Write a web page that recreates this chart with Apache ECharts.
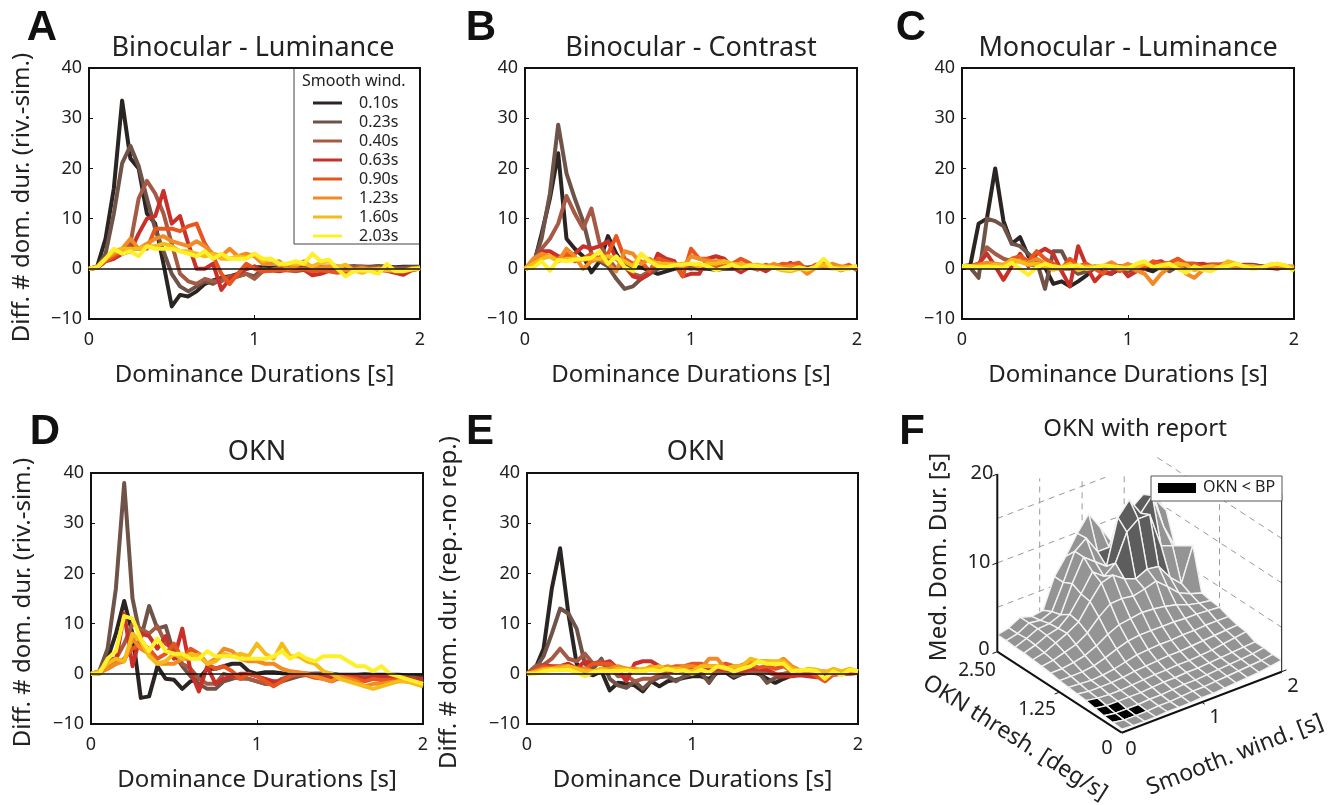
<!DOCTYPE html>
<html>
<head>
<meta charset="utf-8">
<style>html,body{margin:0;padding:0;background:#fff}#chart{width:1341px;height:805px}</style>
<script src="https://cdn.jsdelivr.net/npm/echarts@6/dist/echarts.min.js"></script>
</head>
<body>
<div id="chart"></div>
<script>
// dominance duration bins [s]
const durations = [0,.05,.1,.15,.2,.25,.3,.35,.4,.45,.5,.55,.6,.65,.7,.75,.8,.85,.9,.95,1,1.05,1.1,1.15,1.2,1.25,1.3,1.35,1.4,1.45,1.5,1.55,1.6,1.65,1.7,1.75,1.8,1.85,1.9,1.95,2];
const windowNames = ['0.10s','0.23s','0.40s','0.63s','0.90s','1.23s','1.60s','2.03s'];
const windowColors = ['#2a2522','#6f5248','#a45a45','#c9302a','#e8551f','#f28a25','#f5bb18','#fdf02a'];

// panel A
const a010 = [0,.5,6,16,33.5,22,20,11,9,1, -7.5,-5.2,-5.5,-4.5,-3,-2.3,-1.8,-1.5,-1,0, .3,.3,.2,.3,.3,.3,.3,.5,.4,.4, .4,.4,.5,.4,.4,.5,.4,.3,.4,.4,.4];
const a023 = [0,.3,3,11,21,24.5,20.5,14,8,3.5, -1,-3.5,-4.5,-3.5,-2.5,-3,-2,-2,-1.5,-1, -1.5,0,-.3,.2,.2,0,.2,.4,.3,.2, .3,.4,.3,.4,.3,.5,.3,.2,.2,.3,.3];
const a040 = [0,.2,1.5,3,3,5,14,17.5,15,11, 5,-1,-2.5,-3,-2,-2.5,-2.5,-1.5,-1.5,-1, -2,-.5,-.2,.2,-.3,-.5,-.2,.2,.1,.2, .3,.2,.3,.4,.2,.2,.1,-.1,-.1,.1,.2];
const a063 = [0,.2,1.5,2,3,3.5,7,10,10.5,15.5, 9,10.5,5,0,0,1,-4.2,-2,-1,0, .5,-.5,-.3,-.5,-.2,0,-.2,-1.3,-1,-.4, -.6,-.8,-.5,0,-.3,-.2,-.4,-.8,-1.2,-.3,.1];
const a090 = [0,.2,1.5,2.5,3.5,4,4,4,8,8, 8,7.5,8.5,9,5,2.5,-1,-3,-1,1, 0,-.5,-.4,-.2,-.3,-.2,0,-.5,-.3,-.5, -.8,-.3,-.2,-.3,-.1,0,-.2,-.3,-.5,-.2,0];
const a123 = [0,.5,2,3,4,6,4,5,6,6.5, 5.5,5,4.5,5.5,4.5,3,2.5,4,2.5,3, 2.5,1,1,1.5,0,.5,1.5,.2,.3,.4, .5,-.3,-.2,.2,-.2,0,-.1,-.2,-.4,0,.2];
const a160 = [0,.3,2,3.5,4,4,4,4.5,4.5,5, 4.5,3.5,3.5,3,2.5,3,2,2,2.5,2.2, 3,1.5,2,.8,1,1,1,.5,1.2,1.5, .3,.8,-.3,-.8,-.2,0,-.3,-.4,-.4,-.2,.3];
const a203 = [0,.3,2,4,3,3.5,2.5,4.5,4,4, 4,3.5,3,2.5,3.5,2,3,2,2,2, 3,2,2,1,1,1.5,1,3,1.5,1.8, 0,-1.5,-.5,-.3,-.5,-1,1,-.5,-.5,0,0];

// panel B
const b010 = [0,.5,7,14,23,6,4,2.5,-.7,1.5, 6.5,3,.5,.3,.3,-.3,-1,-.5,0,.2, .2,0,0,-.2,0,0,.2,.2,0,.2, .2,.2,.2,.3,.2,.2,.2,.2,.2,.2,.2];
const b023 = [0,1,6,15,28.7,19,14,9.5,3,1.5, .5,-2,-4,-3.5,-2,-1,0,.5,.5,.5, .3,0,.2,.2,.2,.2,.3,.3,0,.2, .3,.3,.2,.3,.2,.2,.3,.2,.2,.3,.2];
const b040 = [0,.7,4,6,9,14.5,11,8,12,5, 2,0,.5,-1,-1.5,-.5,.3,.5,.5,.3, 0,.3,.3,.3,0,.3,.3,.2,.2,.4, .2,.3,.2,.2,.1,.2,.2,.1,.2,.2,.2];
const b063 = [0,.5,3.5,3.5,2.5,2,3,4.5,4,4.5, 5.5,2,.5,-1.5,-2,-1,3,2,1.5,-1.5, -1,-1,2,2.5,2,.3,-.7,.3,.3,-.5, .5,.2,1.2,0,.2,.5,.8,.5,-.3,.2,.3];
const b090 = [0,1,2.5,2.5,2,3,1.5,2,3,2, 3,6.5,2,1,1.5,-.5,2,1.5,1,-1.5, 4,2,2,.5,.5,1,2,1.2,-.2,.8, .3,1,.8,1.2,-.3,.8,1,.3,.2,.8,-.3];
const b123 = [0,2,3,2.5,1.5,4,2.5,0,1.5,2, 1,-.5,3.5,3,1,2,1,.5,1,.3, 2.5,2,1.5,1.5,1.5,.8,1,.5,.3,.3, 1,.3,.5,.3,-1,.2,.3,1,.5,.3,0];
const b160 = [0,1,2,2.5,1.5,2,2,1.8,2,2, 2.5,2,1.5,.5,3,1.5,1,1,.8,1, 1,.5,1,1,1.5,1,.8,.6,.8,.5, .3,-.3,-.5,0,-.2,.3,.8,.2,.2,.3,.5];
const b203 = [0,.2,1.5,-.4,1.8,1.5,1.8,2,2.2,3.5, 1,2.5,.3,-.5,3,1.5,.5,.3,.7,.8, 1,1,.5,-.3,.3,.8,.1,.7,.5,.3, .2,0,-.2,.3,-.1,.4,2,.2,-.2,0,.6];

// panel C
const c010 = [.5,.7,9,10,20,9.5,5,6.3,2.5,.8, .3,-3,-2.5,-3.5,-2.5,-1.3,.5,-.7,-1,0, .7,.5,0,-.5,.5,.7,.7,.5,.5,.7, .8,.8,.8,.8,.7,.7,.5,.3,.5,.4,.3];
const c023 = [.5,.2,-1.8,10,9.5,8.5,5,4.5,3,1.5, -4,3.5,3.5,.3,-1,-.5,0,.5,0,.2, -.5,.2,.3,.5,.5,-.5,.5,1,1,.8, .8,.8,.5,.7,.8,.8,.5,.3,.5,.3,.3];
const c040 = [.5,.5,.7,4.3,3,2,1.5,1.5,1,.5, .3,.2,0,0,.5,.3,.3,.5,.3,.5, .5,.3,.5,.5,.5,.3,.5,.5,.3,.5, .5,.5,.5,.5,.5,.4,.3,.3,.3,.3,.3];
const c063 = [.5,.5,1,3,.5,-2.2,.5,3,.5,3, 4,3,-.5,-3.5,4.5,.5,-2.5,-.7,-1,.5, -1.5,-.5,0,1.2,1.5,.5,2,.7,.8,1, .5,.7,.8,.5,.7,.5,.3,.2,0,.5,.3];
const c090 = [.5,.5,1,1,.8,.5,2,2.5,1.5,3.5, 2,1,0,2,.5,1,0,-1,1,-.5, .5,-.5,.3,1.5,1,1.2,2,1,1,.2, .8,.8,1.2,.5,.5,.5,.3,.5,.2,.5,0];
const c123 = [.5,.5,.7,1.2,1,.8,1.8,1.5,1.2,2, 1,.5,.2,.3,.5,.5,.3,.5,1.3,.3, 1,-.3,-1,-3,-1,.3,1.2,-1,-1.8,-.3, .5,.3,.7,.3,.5,.3,.2,.5,.3,.3,.5];
const c160 = [.5,.3,.5,.5,.8,.6,1.8,1.4,.8,1, .5,-.2,.3,1,-.3,.3,.5,.5,.3,0, .3,.3,1,.5,0,.5,1,.8,-.3,.3, .5,.3,1.5,1,.5,.5,.2,.8,1,.5,.2];
const c203 = [.5,.5,.3,.4,.3,.2,1.2,0,-1.2,.3, 1,.5,.2,.5,.7,0,.2,.7,.5,.3, 0,1,1.5,.3,.7,1,0,-.8,.5,-.2, -.5,.3,.5,1,.5,0,.2,.8,1,.7,-.5];

// panel D
const d010 = [0,0,3,8,14.5,8,-4.8,-4.5,1.5,-1, -1.2,-3,-1.5,-1,1,1,1.5,2,2,.5, 0,.3,.3,.1,0,0,0,0,0,-.1, -.2,-.2,-.2,-.1,-.2,-.2,-.2,-.2,-.3,-.3,-.3];
const d023 = [0,.5,5,17,38,15,7,13.5,9,9.5, 4,1.5,-.5,-2,-3,-3,-1.5,-1,-.5,-1, -1.5,-2,-2,-1.5,-1,-.5,-.2,0,0,0, -.3,-.3,-.3,-.5,-.5,-.5,-.5,-.5,-.7,-.8,-1];
const d040 = [0,.5,3,3,6,10,9,8,9.5,6, 5,2,1,-1,-2,-2,0,-.5,-1,-1, -1.5,-2,-2,-1,-.5,-.3,-.2,-.3,-.5,-.7, -.5,-.5,-.5,-.7,-.5,-.5,-.5,-.6,-.8,-1,-1.5];
const d063 = [0,.3,1.5,2.5,12,1.5,8,7.5,5,7.5, 3,9,.5,-3.5,1.5,-2,-1,-.5,0,0, -.5,-1,-1.5,-1.5,-.5,0,0,-.3,-.5,-.7, -.3,-.5,-.5,-1,-.5,-.5,-.7,-1,-.8,-1.2,-1];
const d090 = [0,.3,1,2,3,5,6,5,3,4, 6,3,5,4,2,1,1.5,.5,-1,0, -.5,-1.5,-2.5,-1.5,-.5,0,-.3,-.8,-1,-1.5, -.8,-.7,-1,-1.5,-1,-1.3,-1.2,-1.3,-1.5,-1.7,-2];
const d123 = [0,.2,1,2,2.5,7,5,4,2,2, 2,3,3,4,2,3,5,4.5,3,2.5, 2.5,2,2,1,.5,.3,0,-.5,-1,-1.5, -.5,-1,-1.5,-2.5,-2,-2,-1.7,-1.5,-1.5,-1.7,-2];
const d160 = [0,.5,2,3,2.5,8,6.5,3.5,2,2.5, 4,3,4,3.5,2,2.5,4,3.5,4,3.5, 6,4,3,6,3.5,3.5,2.5,2,.5,0, -1,-1.5,-2,-2.5,-3,-2.5,-2,-1.5,-1.5,-2,-2.5];
const d203 = [0,0,3,4.5,11.5,11,7,4.5,7,4.5, 4,4,3,3,4.5,3.5,3.5,3.5,3,3, 3,3,3.5,4.5,3,4,3,2.5,3.5,3.5, 3.5,2.5,1.5,1.5,.5,1.5,0,-.5,-1,-1.5,-2];

// panel E
const e010 = [0,1,5,17,25,12,2,.3,-.3,.5, -3.3,-1.8,-2,-2.3,-3.5,-1.5,-2.5,-1.5,-1.2,-.8, -.5,-.5,-1,.2,.3,-.8,0,.3,0,-1, -1.8,-1,-.3,-.1,0,.2,.2,.3,.3,.3,.3];
const e023 = [0,1,3.5,8,13,12,9,2,1,3, -1,-2.3,-2.8,-1.5,-3,-1.5,-.7,-.5,-1.5,-.5, 0,.3,-1.8,.5,.7,-.5,0,.2,.3,-1.8, -.8,-.5,-.3,0,.2,.2,.3,.3,.3,.3,.3];
const e040 = [0,1.5,1.8,3,5,3,2.5,4,2,2.5, 1.5,-.5,-.3,-1.5,-1,-1,-.3,.5,.3,.5, .5,.3,.3,.3,.5,.5,.3,.3,.5,.3, -.2,0,.3,.2,.2,.3,.3,.2,.3,.3,.3];
const e063 = [0,.5,1.7,1.5,1.5,2,1,2.5,2,2, 2.5,1,-1.5,2,2.5,2.5,1.5,.5,.5,1, 1,1.5,1,1,.8,1,.5,1,1,.8, 0,-.5,-.5,-.3,-.5,-.7,-.4,-.2,0,0,.2];
const e090 = [0,.7,1.5,1.2,1.3,1,1.2,1,2,2, 2,1,1,.7,.5,1,1,1,1.5,1.5, 2,2,1.5,1.5,2,1.5,1.5,2,1.2,1.5, 1,1.5,.5,.2,.5,-.5,-1.5,-.2,0,0,.2];
const e123 = [0,.5,1,1,1.5,1.5,.5,1,.5,1, 1,1.5,1,1,.7,1.5,1,1.5,1,1.5, 1.5,1,3,3,1,1,1.8,2.5,2.5,2.5, 2,3,1.5,.7,.5,.5,.5,0,.3,.5,.5];
const e160 = [0,.3,.8,1,1,1.5,1,.5,.5,1, .5,1,.8,.5,1,1,1.5,.7,1,.8, .5,1.5,1.5,1.5,1,1.5,1.5,3,2.5,2.5, 2.5,2.5,1,.5,1,.8,.3,1,.5,1,.5];
const e203 = [0,0,.5,.7,.7,.8,.3,-.5,.3,.5, .5,.5,.7,.5,.5,.8,.5,1,.5,.7, 0,.8,.3,1.5,1.2,.5,1,1.5,2.5,2, 2,2,.5,.7,.8,.5,-1,.5,-.3,.8,.5];

// panel F: median duration, rows = OKN threshold 0..2.5, columns = smooth window 0..2
const surfaceHeights = [
  [.4,.3,.3,.3,.4,.4,.4,.5,.5,.6,.7,.8,.9,1.1,1.3],
  [.5,.3,.3,.3,.4,.4,.5,.6,.6,.7,.8,.9,1,1.1,1.3],
  [.6,.4,.4,.4,.5,.5,.6,.7,.7,.8,.9,1,1.1,1.2,1.4],
  [.8,.6,.6,.6,.6,.7,.8,.8,.9,.9,1,1.1,1.2,1.3,1.4],
  [1,.8,.7,.7,.8,.9,1,1,1.1,1.1,1.2,1.3,1.5,1.7,1.9],
  [1.1,.9,.9,.9,1,1.2,1.3,1.4,1.5,1.5,1.6,1.7,1.8,1.9,2],
  [1.2,1.1,1,1.1,1.3,1.6,1.9,2,2.1,2.1,2.2,2.2,2.3,2.3,2.3],
  [1.3,1.3,1.3,1.5,1.9,2.4,2.8,3,3,3,3,2.9,2.9,2.8,2.7],
  [1.5,1.5,1.7,2,2.6,3.4,4,4.2,4.4,4.3,4.1,3.8,3.3,3,2.8],
  [1.6,1.8,2.2,2.6,3.4,4.7,5.7,5.8,5.6,5.9,6.3,5.2,4,3.4,3],
  [1.7,2,2.6,3.2,4,5.8,7.4,7.8,6.9,6.4,7,6.8,5.1,3.9,7.7],
  [1.8,2.2,2.8,3.1,4.2,6,8,7,8,11,12,12,8,7.5,7],
  [1.8,2.3,2.9,3,3.5,6.5,9,8,7,12,13.5,11.5,13,9,6.3],
  [1.9,2.2,2.9,2.7,3.2,6,9,10,8,8,10,11.5,12.5,11.5,9.7],
  [1.9,2.2,2.9,2.5,2.7,6,7.8,9.9,11.6,9.6,7.5,7,10,10,10.5]
];
const blackCells = ['1,0','2,0','3,0','1,1','2,1','1,2'];
const darkCells = ['10,8','10,9','10,10','10,11','11,8','11,9','11,10','11,11','12,8','12,9','12,10','12,11'];

const panels = [
  {rows:[a010,a023,a040,a063,a090,a123,a160,a203], left:89, right:420, top:68, bottom:319, title:'Binocular - Luminance', cx:253, ty:35, yName:'Diff. # dom. dur. (riv.-sim.)', yNameGap:55, letter:'A', lx:42, ly:7},
  {rows:[b010,b023,b040,b063,b090,b123,b160,b203], left:525, right:857, top:68, bottom:319, title:'Binocular - Contrast', cx:691, ty:35, letter:'B', lx:481, ly:7},
  {rows:[c010,c023,c040,c063,c090,c123,c160,c203], left:962, right:1294, top:68, bottom:319, title:'Monocular - Luminance', cx:1128, ty:35, letter:'C', lx:911, ly:7},
  {rows:[d010,d023,d040,d063,d090,d123,d160,d203], left:91, right:423, top:473, bottom:724, title:'OKN', cx:257, ty:439, yName:'Diff. # dom. dur. (riv.-sim.)', yNameGap:56, letter:'D', lx:45, ly:411},
  {rows:[e010,e023,e040,e063,e090,e123,e160,e203], left:527, right:858, top:473, bottom:724, title:'OKN', cx:696, ty:439, yName:'Diff. # dom. dur. (rep.-no rep.)', yNameGap:66, letter:'E', lx:480, ly:411}
];

const FONT = '"Noto Sans", sans-serif';
const textColor = '#222';

const grids = [], xAxes = [], yAxes = [], titles = [], series = [];

function titleItem(text, x, y, size, bold) {
  return {text:text, left:x, top:y, padding:0, textAlign:'center',
    textStyle:{fontFamily:bold ? '"Liberation Sans"' : FONT, fontSize:size, fontWeight:bold ? 'bold' : 'normal', color:bold ? '#111' : textColor}};
}

panels.forEach(function (p, idx) {
  grids.push({left:p.left, top:p.top, width:p.right-p.left, height:p.bottom-p.top, show:true, borderColor:'#111', borderWidth:2, backgroundColor:'transparent'});
  xAxes.push({
    gridIndex:idx, type:'value', min:0, max:2, interval:1,
    name:'Dominance Durations [s]', nameLocation:'middle', nameGap:44,
    nameTextStyle:{fontFamily:FONT, fontSize:24, color:textColor},
    axisLine:{show:true, onZero:false, lineStyle:{color:'#111', width:2}},
    axisTick:{show:true, inside:true, length:4, lineStyle:{color:'#111', width:1}},
    axisLabel:{fontFamily:FONT, fontSize:18, color:textColor, margin:12},
    splitLine:{show:false}
  });
  yAxes.push({
    gridIndex:idx, type:'value', min:-10, max:40, interval:10,
    name:p.yName || '', nameLocation:'middle', nameGap:p.yNameGap || 55,
    nameTextStyle:{fontFamily:FONT, fontSize:24, color:textColor, padding:[0,8,0,0]},
    axisLine:{show:true, lineStyle:{color:'#111', width:2}},
    axisTick:{show:true, inside:true, length:4, lineStyle:{color:'#111', width:1}},
    axisLabel:{fontFamily:FONT, fontSize:18, color:textColor, margin:7,
      formatter:function (v) { return String(v).replace('-', '\u2212'); }},
    splitLine:{show:false}
  });
  titles.push(titleItem(p.title, p.cx, p.ty, 27));
  titles.push(titleItem(p.letter, p.lx, p.ly, 42, true));

  p.rows.forEach(function (vals, k) {
    const s = {
      name:windowNames[k], type:'line', xAxisIndex:idx, yAxisIndex:idx, z:k === 0 ? 2 : 3,
      data:vals.map(function (v, i) { return [durations[i], v]; }),
      showSymbol:false, symbol:'none', animation:false, silent:true,
      color:windowColors[k], lineStyle:{color:windowColors[k], width:4, join:'round'}
    };
    if (k === 0) {
      s.markLine = {silent:true, symbol:'none', label:{show:false}, animation:false,
        lineStyle:{color:'#111', width:1.5, type:'solid'}, data:[{yAxis:0}]};
    }
    series.push(s);
  });
});

// panel F: hidden page-sized grid, oblique projection of (smooth, thresh, z)
const fGrid = panels.length;
grids.push({left:0, top:0, right:0, bottom:0, show:false});
xAxes.push({gridIndex:fGrid, type:'value', min:0, max:1341, show:false});
yAxes.push({gridIndex:fGrid, type:'value', min:0, max:805, inverse:true, show:false});

function project(s, t, z) {
  return [1121.7 + 80*s - 49.76*t, 732.7 - 30.5*s - 32.4*t - 8.88*z];
}

function segmentSeries(segments, style) {
  return {
    type:'custom', xAxisIndex:fGrid, yAxisIndex:fGrid, silent:true, animation:false, clip:false,
    coordinateSystem:'cartesian2d', z:style.z || 2,
    data:segments,
    renderItem:function (params, api) {
      const d = segments[params.dataIndex];
      const a = api.coord(project(d[0], d[1], d[2]));
      const b = api.coord(project(d[3], d[4], d[5]));
      return {type:'line', shape:{x1:a[0], y1:a[1], x2:b[0], y2:b[1]},
        style:{stroke:style.color, lineWidth:style.width, lineDash:style.dash}};
    }
  };
}

// back walls, z levels and verticals, cut at the top of the plot as in the figure
const wallSegments = [
  [0,2.5,5,2,2.5,5],[0,2.5,10,2,2.5,10],[0,2.5,15,1.35,2.5,15],
  [2,2.5,5,2,0,5],[2,2.5,10,2,0,10],[2,2.5,15,2,0,15],
  [.53,2.5,0,.53,2.5,17.7],[1.06,2.5,0,1.06,2.5,16],[1.586,2.5,0,1.586,2.5,14.4],
  [2,1.25,0,2,1.25,14.6]
];
series.push(segmentSeries(wallSegments, {color:'#9a9a9a', width:1, dash:[6,5], z:1}));

// surface cells, back to front
const cells = [];
for (let i = surfaceHeights.length - 2; i >= 0; i--) {
  for (let j = surfaceHeights[0].length - 2; j >= 0; j--) cells.push([i, j]);
}
series.push({
  type:'custom', xAxisIndex:fGrid, yAxisIndex:fGrid, silent:true, animation:false, clip:false, z:3,
  data:cells,
  renderItem:function (params, api) {
    const c = cells[params.dataIndex], i = c[0], j = c[1];
    const nr = surfaceHeights.length - 1, nc = surfaceHeights[0].length - 1;
    const corner = function (ii, jj) {
      return api.coord(project(2*jj/nc, 2.5*ii/nr, surfaceHeights[ii][jj]));
    };
    const pts = [corner(i,j), corner(i,j+1), corner(i+1,j+1), corner(i+1,j)];
    let fill = '#949494';
    const key = i + ',' + j;
    if (darkCells.indexOf(key) >= 0) fill = '#5d5d5d';
    if (blackCells.indexOf(key) >= 0) fill = '#000';
    return {type:'polygon', shape:{points:pts}, style:{fill:fill, stroke:'#f2f2f2', lineWidth:1.4, lineJoin:'round'}};
  }
});

// box lines of panel F
const boxSegments = [
  [0,0,0,0,2.5,0],[0,0,0,2,0,0],[0,2.5,0,0,2.5,20]
];
series.push(segmentSeries(boxSegments, {color:'#111', width:2, z:4}));
const thinBoxSegments = [[2,0,0,2,0,20],[0,2.5,20,-.06,2.5,20],[0,2.5,10,-.06,2.5,10],[0,2.5,0,-.06,2.5,0],[1,0,0,1,-.06,0],[0,1.25,0,-.06,1.25,0],[2,0,0,2.06,0,0]];
series.push(segmentSeries(thinBoxSegments, {color:'#111', width:1, z:4}));

function fText(text, x, y, size, rotation) {
  return {type:'text', x:x, y:y, rotation:rotation || 0, z:50,
    style:{text:text, fontFamily:FONT, fontSize:size, fill:textColor, textAlign:'center', textVerticalAlign:'middle'}};
}

const option = {
  animation:false,
  backgroundColor:'#fff',
  title:titles.concat([
    titleItem('OKN with report', 1135, 417, 24),
    titleItem('F', 912, 411, 42, true)
  ]),
  grid:grids, xAxis:xAxes, yAxis:yAxes,
  legend:{
    data:windowNames, left:308, top:90, orient:'vertical', selectedMode:false,
    icon:'rect', itemWidth:29, itemHeight:3, itemGap:3, z:20,
    textStyle:{fontFamily:FONT, fontSize:16, color:textColor, padding:[0,0,0,12], height:16, lineHeight:16}
  },
  graphic:{elements:[
    {type:'rect', shape:{x:294, y:68, width:126, height:176}, z:-1, style:{fill:'#fff', stroke:'#444', lineWidth:1}, silent:true},
    {type:'text', x:302, y:73, z:50, style:{text:'Smooth wind.', fontFamily:FONT, fontSize:16, fill:textColor}},
    {type:'rect', shape:{x:1151, y:476, width:131, height:25}, z:40, style:{fill:'#fff', stroke:'#555', lineWidth:1}},
    {type:'rect', shape:{x:1158, y:483, width:38, height:10}, z:41, style:{fill:'#000'}},
    {type:'text', x:1203, y:479, z:50, style:{text:'OKN < BP', fontFamily:FONT, fontSize:16, fill:textColor}},
    fText('Med. Dom. Dur. [s]', 939, 557, 24, Math.PI/2),
    fText('20', 982, 473, 20), fText('10', 979, 562, 20), fText('0', 984, 649, 20),
    fText('2.50', 977, 671, 19), fText('1.25', 1037, 710, 19), fText('0', 1107, 748, 20),
    fText('0', 1131, 749, 20), fText('1', 1215, 717, 20), fText('2', 1293, 686, 20),
    fText('OKN thresh. [deg/s]', 1015, 738, 23, -0.565),
    fText('Smooth. wind. [s]', 1235, 755, 23, 0.37)
  ]},
  series:series
};

const chart = echarts.init(document.getElementById('chart'));
chart.setOption(option);
window.addEventListener('resize', function () { chart.resize(); });
</script>
</body>
</html>
